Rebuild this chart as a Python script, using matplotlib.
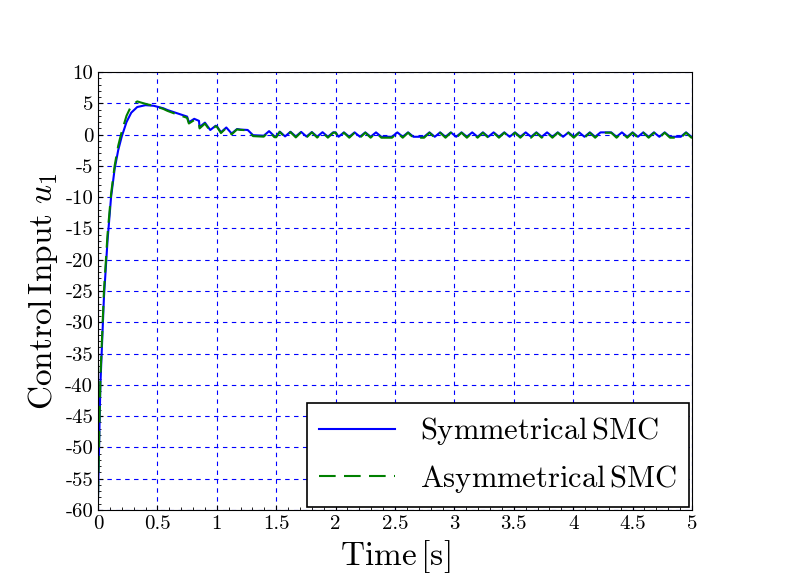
import numpy as np
import matplotlib
matplotlib.use("Agg")
import matplotlib.pyplot as plt

plt.rcParams['font.family'] = 'cmr10'
plt.rcParams['mathtext.fontset'] = 'cm'
plt.rcParams['axes.unicode_minus'] = False

# smooth part
t_sym = [0.0, 0.02, 0.05, 0.08, 0.11, 0.14, 0.17, 0.20, 0.24, 0.28, 0.33, 0.40, 0.47, 0.55, 0.65, 0.75, 0.85, 1.0, 1.2, 1.5, 2.0, 5.0]
u_sym = [-58, -40, -26, -17, -10, -5.5, -2.5, -0.3, 2.0, 3.5, 4.4, 4.7, 4.6, 4.2, 3.4, 2.5, 1.7, 0.9, 0.4, 0.1, 0.0, 0.0]
t_asy = [0.0, 0.02, 0.05, 0.08, 0.11, 0.14, 0.17, 0.20, 0.24, 0.28, 0.33, 0.40, 0.47, 0.55, 0.65, 0.75, 0.85, 1.0, 1.2, 1.5, 2.0, 5.0]
u_asy = [-58, -39, -25, -16, -9.5, -5, -1.8, 0.5, 3.0, 4.6, 5.3, 4.9, 4.6, 4.1, 3.2, 2.3, 1.5, 0.8, 0.3, 0.0, -0.1, -0.1]
# chatter amplitude vs time
chat_t = [0.0, 0.6, 0.8, 1.2, 2.0, 5.0]
chat_sym = [0.0, 0.0, 0.5, 0.4, 0.35, 0.35]
chat_asy = [0.0, 0.0, 0.5, 0.45, 0.4, 0.4]
chat_period = 0.09

def build(tk, uk, amp):
    t = np.arange(0, 5.0001, chat_period / 2)
    t = np.union1d(t, np.array(tk))
    base = np.interp(t, tk, uk)
    a = np.interp(t, chat_t, amp)
    sgn = np.where((np.floor(t / (chat_period / 2)) % 2) == 0, 1, -1)
    return t, base + a * sgn

fig = plt.figure(figsize=(7.92, 5.84), dpi=100)
ax = fig.add_axes([98/792, 1 - 510/584, (692-98)/792, (510-72)/584])
ts, us = build(t_sym, u_sym, chat_sym)
ta, ua = build(t_asy, u_asy, chat_asy)
ax.plot(ts, us, color='blue', lw=1.5, label=r'$\mathrm{Symmetrical\,SMC}$')
ax.plot(ta, ua, color='green', lw=1.5, ls=(0, (8, 4)), label=r'$\mathrm{Asymmetrical\,SMC}$')
ax.set_xlim(0, 5)
ax.set_ylim(-60, 10)
ax.set_xticks(np.arange(0, 5.01, 0.5))
ax.set_xticklabels(['0', '0.5', '1', '1.5', '2', '2.5', '3', '3.5', '4', '4.5', '5'])
yt = np.arange(-60, 11, 5)
ax.set_yticks(yt)
ax.set_yticklabels([str(v) for v in yt])
ax.tick_params(labelsize=15, direction='in')
ax.minorticks_on()
ax.tick_params(which='minor', direction='in')
ax.grid(True, color='blue', ls=(0, (4, 4)), lw=0.8)
ax.set_xlabel(r'$\mathrm{Time\,[s]}$', fontsize=24)
ax.set_ylabel(r'$\mathrm{Control\,Input}\ u_1$', fontsize=24)
leg = ax.legend(loc='lower right', fontsize=22, fancybox=False, edgecolor='black',
                framealpha=1, borderaxespad=0.1, handlelength=2.5)
leg.get_frame().set_linewidth(1.2)
fig.savefig('out.png', dpi=100)
